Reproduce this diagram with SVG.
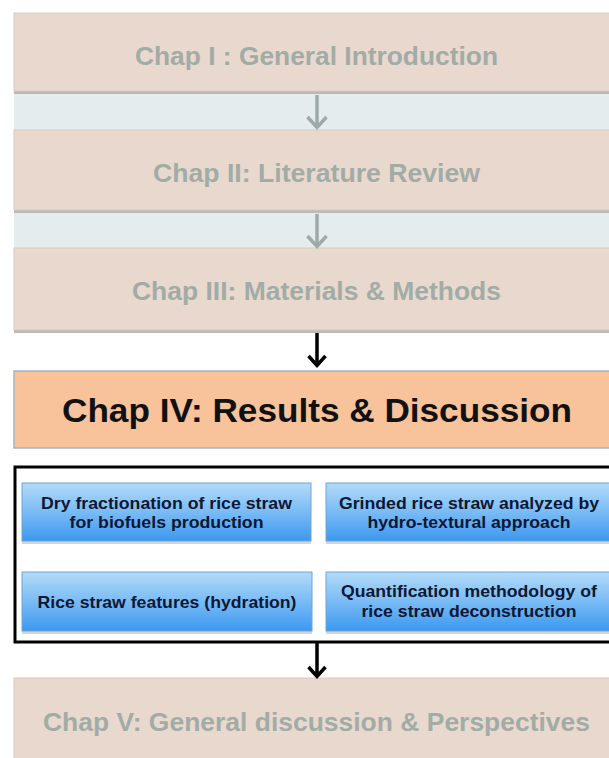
<svg xmlns="http://www.w3.org/2000/svg" width="609" height="758" viewBox="0 0 609 758">
<defs>
<style>
.chap{fill:#e9d8ce;stroke:#d4cbc4;stroke-width:1}
.shadow{fill:#b9bab5}
.band{fill:#e4eced}
.ttl{font-family:"Liberation Sans",Arial,sans-serif;font-weight:bold;text-anchor:middle}
.gray{fill:#a2aca7;font-size:26px}
.main{fill:#111111;font-size:34px}
.sub{fill:#0e1733;font-size:16.5px}
.blue{fill:url(#bg);stroke:#6aa6dc;stroke-width:1}
.garr{fill:none;stroke:#9eaaa8;stroke-width:3.5;stroke-linecap:butt}
.barr{fill:none;stroke:#000000;stroke-width:3.5}
</style>
<linearGradient id="bg" x1="0" y1="0" x2="0" y2="1">
<stop offset="0" stop-color="#b3dbf8"/>
<stop offset="0.5" stop-color="#79bbf5"/>
<stop offset="1" stop-color="#3c98ef"/>
</linearGradient>
</defs>
<rect x="0" y="0" width="609" height="758" fill="#ffffff"/>
<rect class="band" x="14" y="93" width="606" height="38"/>
<rect class="band" x="14" y="212" width="606" height="37"/>

<g id="chap1">
<rect class="shadow" x="14" y="90" width="606" height="4"/>
<rect class="chap" x="14" y="13" width="606" height="78"/>
<text class="ttl gray" x="316.5" y="65" textLength="363" lengthAdjust="spacingAndGlyphs">Chap I : General Introduction</text>
</g>
<g id="chap2">
<rect class="shadow" x="14" y="209" width="606" height="4"/>
<rect class="chap" x="14" y="130" width="606" height="80"/>
<text class="ttl gray" x="316.5" y="182" textLength="327" lengthAdjust="spacingAndGlyphs">Chap II: Literature Review</text>
</g>
<g id="chap3">
<rect class="shadow" x="14" y="329" width="606" height="4"/>
<rect class="chap" x="14" y="248" width="606" height="82"/>
<text class="ttl gray" x="316.5" y="300" textLength="369" lengthAdjust="spacingAndGlyphs">Chap III: Materials &amp; Methods</text>
</g>
<g id="chap4">
<rect x="14" y="371" width="606" height="77" fill="#f8c29b" stroke="#a3b4c6" stroke-width="1.5"/>
<text class="ttl main" x="317" y="422" textLength="510" lengthAdjust="spacingAndGlyphs">Chap IV: Results &amp; Discussion</text>
</g>
<g id="frame">
<rect x="15" y="467" width="604" height="175" fill="#ffffff" stroke="#000000" stroke-width="3"/>
</g>
<g id="boxA">
<rect class="shadow" x="22" y="540" width="289" height="4" opacity="0.6"/>
<rect class="blue" x="22" y="483" width="289" height="58"/>
<text class="ttl sub" x="166.5" y="509" textLength="251" lengthAdjust="spacingAndGlyphs">Dry fractionation of rice straw</text>
<text class="ttl sub" x="166.5" y="528" textLength="194" lengthAdjust="spacingAndGlyphs">for biofuels production</text>
</g>
<g id="boxB">
<rect class="shadow" x="326" y="540" width="290" height="4" opacity="0.6"/>
<rect class="blue" x="326" y="483" width="290" height="58"/>
<text class="ttl sub" x="469" y="509" textLength="260" lengthAdjust="spacingAndGlyphs">Grinded rice straw analyzed by</text>
<text class="ttl sub" x="469" y="528" textLength="203" lengthAdjust="spacingAndGlyphs">hydro-textural approach</text>
</g>
<g id="boxC">
<rect class="shadow" x="22" y="630" width="290" height="4" opacity="0.6"/>
<rect class="blue" x="22" y="572" width="290" height="59"/>
<text class="ttl sub" x="167" y="608" textLength="259" lengthAdjust="spacingAndGlyphs">Rice straw features (hydration)</text>
</g>
<g id="boxD">
<rect class="shadow" x="326" y="630" width="290" height="4" opacity="0.6"/>
<rect class="blue" x="326" y="572" width="290" height="59"/>
<text class="ttl sub" x="469" y="597" textLength="256" lengthAdjust="spacingAndGlyphs">Quantification methodology of</text>
<text class="ttl sub" x="469" y="617" textLength="215" lengthAdjust="spacingAndGlyphs">rice straw deconstruction</text>
</g>
<g id="chap5">
<rect class="chap" x="14" y="678" width="606" height="85"/>
<text class="ttl gray" x="316.5" y="731" textLength="547" lengthAdjust="spacingAndGlyphs">Chap V: General discussion &amp; Perspectives</text>
</g>
<g id="connectors">
<path class="garr" d="M317 95 V127 M307.5 117 L317 127.5 L326.5 117"/>
<path class="garr" d="M317 214 V246 M307.5 236 L317 246.5 L326.5 236"/>
<path class="barr" d="M317 333 V365 M308.5 356 L317 365.5 L325.5 356"/>
<path class="barr" d="M317 643 V676 M308.5 667 L317 676.5 L325.5 667"/>
</g>
</svg>
